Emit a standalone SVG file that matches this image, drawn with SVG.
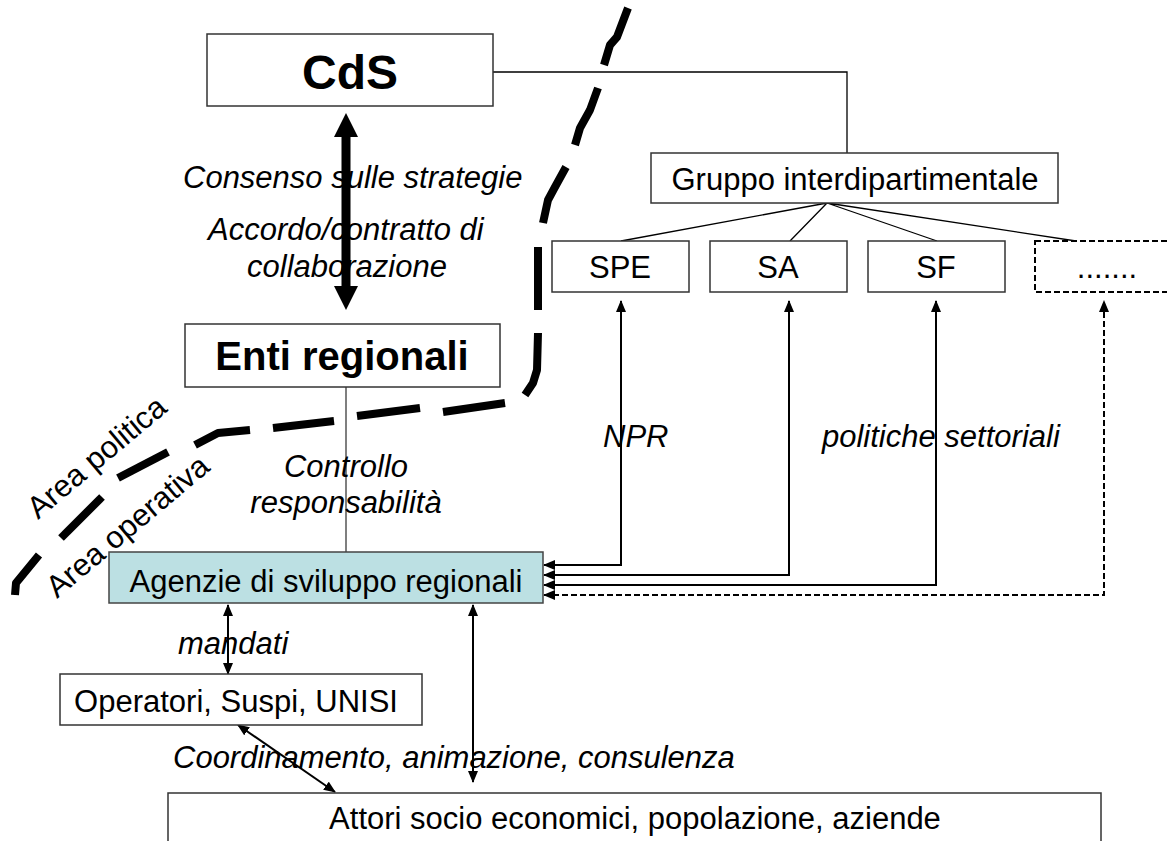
<svg xmlns="http://www.w3.org/2000/svg" width="1167" height="841" viewBox="0 0 1167 841">
<style>
.box{fill:#fff;stroke:#333;stroke-width:1.5}
.t{font-family:"Liberation Sans",Arial,sans-serif;font-size:31px;fill:#000}
.b{font-weight:bold}
.i{font-style:italic}
.c{stroke:#000;stroke-width:2;fill:none}
.thin{stroke:#000;stroke-width:1.3;fill:none}
.dash{stroke-dasharray:6 3}
.sep{stroke:#000;stroke-width:8;fill:none;stroke-linejoin:round}
</style>
<defs>
<marker id="ah" markerUnits="userSpaceOnUse" markerWidth="12" markerHeight="10" refX="11" refY="5" orient="auto-start-reverse" viewBox="0 0 12 10">
<path d="M0,0 L12,5 L0,10 z" fill="#000"/>
</marker>
</defs>
<rect width="1167" height="841" fill="#fff"/>

<g id="separator">
<path class="sep" d="M628,8 L617,37 L610,45 L604,65"/>
<path class="sep" d="M598,88 L590,110 L580,128 L575,145"/>
<path class="sep" d="M566,167 L555,187 L548,200 L543,223"/>
<path class="sep" d="M538,247 L538,310"/>
<path class="sep" d="M538,333 L537,370 L533,383 L525,395"/>
<path class="sep" d="M505,403 L443,412"/>
<path class="sep" d="M420,408 L357,416"/>
<path class="sep" d="M334,421 L273,428"/>
<path class="sep" d="M250,430 L218,433 L195,445"/>
<path class="sep" d="M168,452 L118,478"/>
<path class="sep" d="M102,497 L61,538"/>
<path class="sep" d="M39,555 L16,583 L15,595"/>
</g>

<g id="connectors">
<path class="thin" d="M493,72 H847 V153"/>
<path class="thin" d="M827,203 L621,241 M827,203 L790,241 M827,203 L937,241 M827,203 L1076,241"/>
<path d="M346,387 V553" stroke="#555" stroke-width="1.5" fill="none"/>
<rect x="341.5" y="136" width="9" height="151" fill="#000"/>
<polygon points="346,113 334,137 358,137" fill="#000"/>
<polygon points="346,310 334,286 358,286" fill="#000"/>
<path class="c" d="M544,565 H621 V301" marker-start="url(#ah)" marker-end="url(#ah)"/>
<path class="c" d="M544,575 H789 V301" marker-start="url(#ah)" marker-end="url(#ah)"/>
<path class="c" d="M544,585 H936 V301" marker-start="url(#ah)" marker-end="url(#ah)"/>
<path class="c dash" d="M544,595 H1104 V301" marker-start="url(#ah)" marker-end="url(#ah)"/>
<path class="c" d="M228,605 V674" marker-start="url(#ah)" marker-end="url(#ah)"/>
<path class="c" d="M473,605 V782" marker-start="url(#ah)" marker-end="url(#ah)"/>
<path class="c" d="M238,725 L335,792" marker-start="url(#ah)" marker-end="url(#ah)"/>
</g>

<g id="labels">
<text class="t i" x="183" y="188">Consenso sulle strategie</text>
<text class="t i" x="208" y="240">Accordo/contratto di</text>
<text class="t i" x="247" y="277">collaborazione</text>
<text class="t i" x="346" y="477" text-anchor="middle">Controllo</text>
<text class="t i" x="346" y="513" text-anchor="middle">responsabilità</text>
<text class="t i" x="603" y="447">NPR</text>
<text class="t i" x="822" y="447">politiche settoriali</text>
<text class="t i" x="178" y="654">mandati</text>
<text class="t i" x="173" y="768">Coordinamento, animazione, consulenza</text>
<text class="t" transform="translate(38,520) rotate(-40)">Area politica</text>
<text class="t" transform="translate(57,599) rotate(-40)">Area operativa</text>
</g>

<g id="cds">
<rect class="box" x="207" y="34" width="286" height="72"/>
<text class="t b" x="350" y="89" text-anchor="middle" style="font-size:48px">CdS</text>
</g>
<g id="enti">
<rect class="box" x="185" y="324" width="315" height="63"/>
<text class="t b" x="342" y="370" text-anchor="middle" style="font-size:40px">Enti regionali</text>
</g>
<g id="gruppo">
<rect class="box" x="651" y="153" width="407" height="50"/>
<text class="t" x="855" y="190" text-anchor="middle">Gruppo interdipartimentale</text>
</g>
<g id="spe">
<rect class="box" x="552" y="241" width="137" height="51"/>
<text class="t" x="620" y="278" text-anchor="middle">SPE</text>
</g>
<g id="sa">
<rect class="box" x="710" y="241" width="137" height="51"/>
<text class="t" x="778" y="278" text-anchor="middle">SA</text>
</g>
<g id="sf">
<rect class="box" x="868" y="241" width="137" height="51"/>
<text class="t" x="936" y="278" text-anchor="middle">SF</text>
</g>
<g id="altri">
<rect x="1035" y="241" width="140" height="51" fill="#fff" stroke="#000" stroke-width="2" stroke-dasharray="6 3"/>
<text class="t" x="1107" y="278" text-anchor="middle">.......</text>
</g>
<g id="agenzie">
<rect x="109" y="552" width="434" height="51" fill="#bce0e3" stroke="#444" stroke-width="1.5"/>
<text class="t" x="326" y="592" text-anchor="middle">Agenzie di sviluppo regionali</text>
</g>
<g id="operatori">
<rect class="box" x="60" y="674" width="362" height="51"/>
<text class="t" x="236" y="712" text-anchor="middle">Operatori, Suspi, UNISI</text>
</g>
<g id="attori">
<rect class="box" x="168" y="793" width="933" height="60"/>
<text class="t" x="635" y="829" text-anchor="middle">Attori socio economici, popolazione, aziende</text>
</g>
</svg>
